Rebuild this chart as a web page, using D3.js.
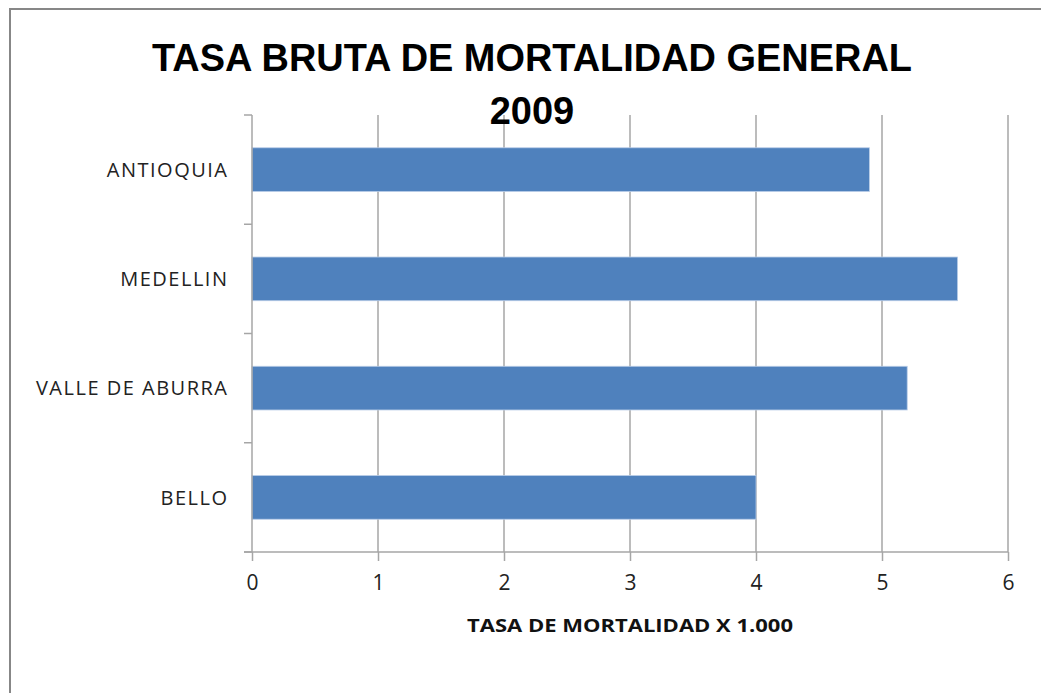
<!DOCTYPE html>
<html>
<head>
<meta charset="utf-8">
<script src="https://cdn.jsdelivr.net/npm/d3@7"></script>
<style>
  body { margin: 0; background: #fff; }
  svg { display: block; }
</style>
</head>
<body>
<svg id="chart" width="1041" height="693"></svg>
<script>
const categories = ["ANTIOQUIA", "MEDELLIN", "VALLE DE ABURRA", "BELLO"];
const rates = [4.9, 5.6, 5.2, 4.0];
const xTicks = [0, 1, 2, 3, 4, 5, 6];
const titleLines = ["TASA BRUTA DE MORTALIDAD GENERAL", "2009"];
const xTitle = "TASA DE MORTALIDAD X 1.000";

const data = categories.map((c, i) => ({ name: c, value: rates[i] }));

const svg = d3.select("#chart"),
      margin = { top: 115, right: 33, bottom: 141, left: 252 },
      width = +svg.attr("width") - margin.left - margin.right,
      height = +svg.attr("height") - margin.top - margin.bottom;

const gridColor = "#a6a6a6";

// chart frame (runs past the window on right/bottom)
svg.append("rect")
    .attr("x", 10)
    .attr("y", 9)
    .attr("width", 1100)
    .attr("height", 800)
    .attr("fill", "#fff")
    .attr("stroke", "#878787")
    .attr("stroke-width", 2);

const g = svg.append("g").attr("transform", `translate(${margin.left},${margin.top})`);

const x = d3.scaleLinear().domain([0, 6]).range([0, width]);
const y = d3.scaleBand()
    .domain(categories)
    .range([0, height])
    .paddingInner(0.6)
    .paddingOuter(0.3);

// vertical gridlines
g.selectAll(".grid")
    .data(xTicks.slice(1))
    .enter().append("line")
    .attr("class", "grid")
    .attr("x1", d => x(d))
    .attr("x2", d => x(d))
    .attr("y1", 0)
    .attr("y2", height)
    .attr("stroke", gridColor)
    .attr("stroke-width", 1.5);

// bars
g.selectAll(".bar")
    .data(data)
    .enter().append("rect")
    .attr("class", "bar")
    .attr("x", x(0))
    .attr("y", d => y(d.name))
    .attr("width", d => x(d.value) - x(0))
    .attr("height", y.bandwidth())
    .attr("fill", "#4f81bd")
    .attr("stroke", "#b9cde8")
    .attr("stroke-width", 0.8);

// x axis
const xAxis = g.append("g")
    .attr("transform", `translate(0,${height})`)
    .call(d3.axisBottom(x).tickValues(xTicks).tickSize(9).tickPadding(14).tickFormat(d3.format("d")));
xAxis.select(".domain").attr("stroke", gridColor).attr("stroke-width", 1.5).attr("d", `M${-8},0H${width}`);
xAxis.selectAll(".tick line").attr("stroke", gridColor).attr("stroke-width", 1.5);
xAxis.selectAll(".tick text")
    .attr("fill", "#222")
    .style("font-family", "'Open Sans', sans-serif")
    .style("font-size", "21px");

// y axis line with ticks at category boundaries
const yAxis = g.append("g");
yAxis.append("line")
    .attr("x1", 0).attr("x2", 0)
    .attr("y1", 0).attr("y2", height)
    .attr("stroke", gridColor)
    .attr("stroke-width", 1.5);
const boundaries = categories.map(c => y(c) - (y.step() - y.bandwidth()) / 2);
boundaries.push(height);
yAxis.selectAll(".ytick")
    .data(boundaries)
    .enter().append("line")
    .attr("class", "ytick")
    .attr("x1", -8).attr("x2", 0)
    .attr("y1", d => d).attr("y2", d => d)
    .attr("stroke", gridColor)
    .attr("stroke-width", 1.5);

yAxis.selectAll(".ylabel")
    .data(categories)
    .enter().append("text")
    .attr("class", "ylabel")
    .attr("x", -23.5)
    .attr("y", d => y(d) + y.bandwidth() / 2)
    .attr("dy", "0.36em")
    .attr("text-anchor", "end")
    .attr("fill", "#222")
    .style("font-family", "'Open Sans', sans-serif")
    .style("font-size", "20px")
    .style("letter-spacing", "1.5px")
    .text(d => d);

// axis title
g.append("text")
    .attr("x", width / 2)
    .attr("y", height + 80)
    .attr("text-anchor", "middle")
    .attr("fill", "#111")
    .attr("textLength", 326)
    .attr("lengthAdjust", "spacingAndGlyphs")
    .style("font-family", "'Open Sans', sans-serif")
    .style("font-weight", "bold")
    .style("font-size", "18px")
    .text(xTitle);

// chart title
svg.selectAll(".title")
    .data(titleLines)
    .enter().append("text")
    .attr("class", "title")
    .attr("x", 532)
    .attr("y", (d, i) => 71 + i * 53)
    .attr("text-anchor", "middle")
    .attr("fill", "#000")
    .attr("textLength", (d, i) => i === 0 ? 760 : null)
    .attr("lengthAdjust", "spacingAndGlyphs")
    .style("font-family", "'Liberation Sans', sans-serif")
    .style("font-weight", "bold")
    .style("font-size", "38px")
    .text(d => d);
</script>
</body>
</html>
